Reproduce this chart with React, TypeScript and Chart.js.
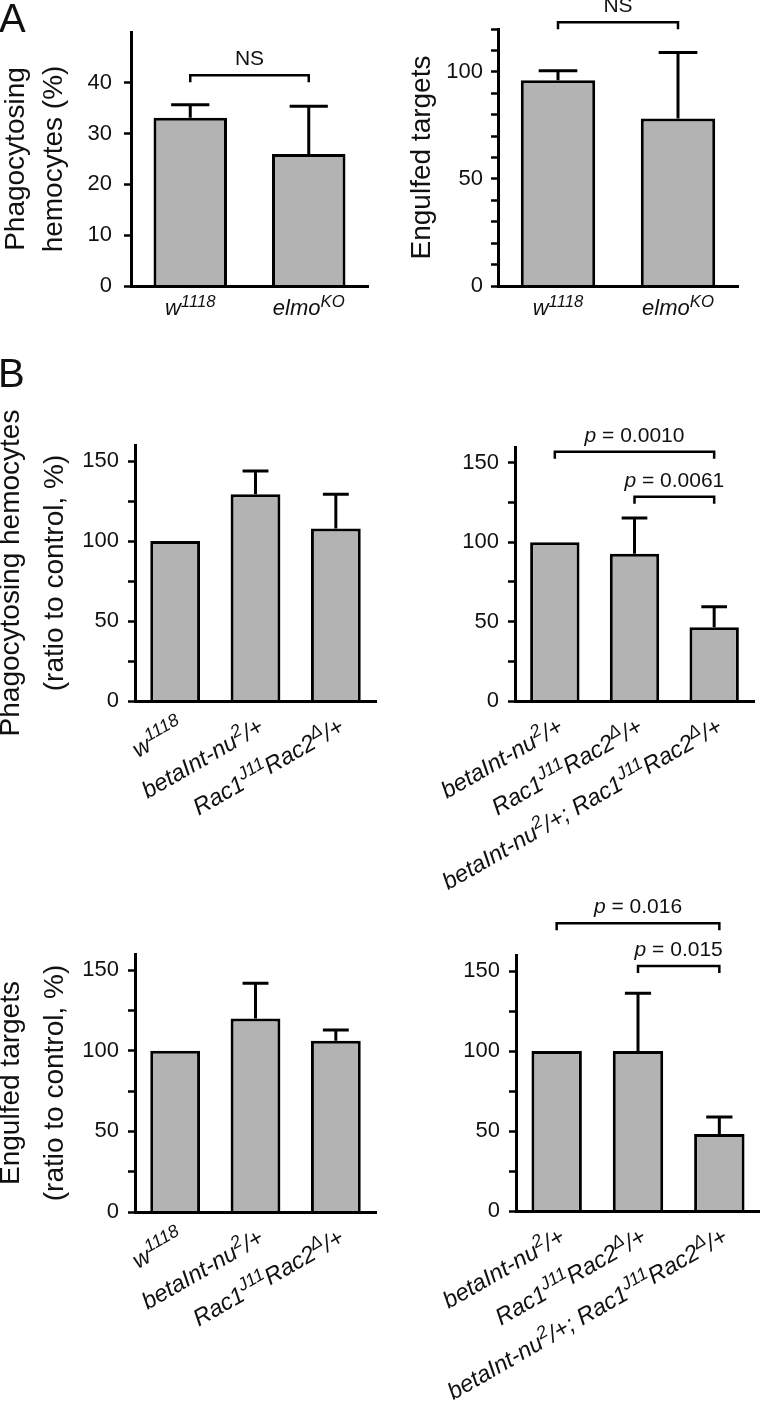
import React, { useEffect, useRef } from "react";
import { Chart, registerables } from "chart.js";

Chart.register(...registerables);

const FONT = "'Liberation Sans', Arial, Helvetica, sans-serif";
Chart.defaults.font.family = FONT;

// ---------------- DATA ----------------
// Panel A
const catsA = ["w^{1118}", "elmo^{KO}"];
const phagoA = [33.1, 26.0];
const phagoAErr = [2.6, 9.4];
const engulfA = [96.1, 78.2];
const engulfAErr = [4.4, 30.8];
const bracketsPhagoA = [{ from: 0, to: 1, y: 41.5, label: "NS" }];
const bracketsEngulfA = [{ from: 0, to: 1, y: 123.1, label: "NS" }];

// Panel B
const catsB1 = ["w^{1118}", "betaInt-nu^{2}/+", "Rac1^{J11}Rac2^{Δ}/+"];
const catsB2 = ["betaInt-nu^{2}/+", "Rac1^{J11}Rac2^{Δ}/+", "betaInt-nu^{2}/+; Rac1^{J11}Rac2^{Δ}/+"];
const phagoB1 = [100, 129.2, 107.8];
const phagoB1Err = [0, 14.5, 21.4];
const phagoB2 = [100, 92.7, 46.4];
const phagoB2Err = [0, 22.5, 13.0];
const engulfB1 = [100, 120.0, 106.2];
const engulfB1Err = [0, 21.8, 6.6];
const engulfB2 = [100, 100, 48.1];
const engulfB2Err = [0, 36.1, 10.7];
const bracketsPhagoB2 = [
  { from: 0, to: 2, y: 157.0, label: "*p* = 0.0010" },
  { from: 1, to: 2, y: 128.7, label: "*p* = 0.0061" },
];
const bracketsEngulfB2 = [
  { from: 0, to: 2, y: 179.8, label: "*p* = 0.016" },
  { from: 1, to: 2, y: 153.1, label: "*p* = 0.015" },
];

// ---------------- STYLE ----------------
const BAR_FILL = "#b3b3b3";
const INK = "#111";

type Seg = { t: string; sup: boolean; it: boolean };

function parseRich(s: string, italic: boolean): Seg[] {
  const out: Seg[] = [];
  let it = italic;
  let buf = "";
  let i = 0;
  const flush = () => {
    if (buf) out.push({ t: buf, sup: false, it });
    buf = "";
  };
  while (i < s.length) {
    const c = s[i];
    if (c === "*") {
      flush();
      it = !it;
      i++;
      continue;
    }
    if (c === "^" && s[i + 1] === "{") {
      flush();
      const j = s.indexOf("}", i);
      out.push({ t: s.slice(i + 2, j), sup: true, it });
      i = j + 1;
      continue;
    }
    buf += c;
    i++;
  }
  flush();
  return out;
}

function drawRich(
  ctx: CanvasRenderingContext2D,
  segs: Seg[],
  size: number,
  align: "center" | "right"
) {
  const supSize = size * 0.76;
  const raise = size * 0.38;
  const fontFor = (s: Seg) => `${s.it ? "italic " : ""}${s.sup ? supSize : size}px ${FONT}`;
  let total = 0;
  const widths = segs.map((s) => {
    ctx.font = fontFor(s);
    const w = ctx.measureText(s.t).width;
    total += w;
    return w;
  });
  let x = align === "right" ? -total : -total / 2;
  ctx.textAlign = "left";
  ctx.textBaseline = "alphabetic";
  segs.forEach((s, k) => {
    ctx.font = fontFor(s);
    ctx.fillText(s.t, x, s.sup ? -raise : 0);
    x += widths[k];
  });
}

type Bracket = { from: number; to: number; y: number; label: string };

type Spec = {
  box: [number, number, number, number];
  area: [number, number, number, number];
  labels: string[];
  values: number[];
  errors: number[];
  brackets: Bracket[];
  max: number;
  step: number;
  lastTick: number;
  labelEvery: number;
  tickPad: number;
  title: string | string[];
  titleLH: number;
  titlePad: number;
  rotated: boolean;
  catFont: number;
};

function makePlugin(spec: Spec) {
  return {
    id: "annot",
    afterDatasetsDraw(chart: any) {
      const ctx: CanvasRenderingContext2D = chart.ctx;
      const ys = chart.scales.y;
      const meta = chart.getDatasetMeta(0);
      ctx.save();
      ctx.strokeStyle = "#000";
      ctx.lineWidth = 3;
      ctx.lineCap = "butt";
      meta.data.forEach((el: any, i: number) => {
        const err = spec.errors[i];
        if (!err) return;
        const y0 = ys.getPixelForValue(spec.values[i]);
        const y1 = ys.getPixelForValue(spec.values[i] + err);
        const cw = el.width * 0.52;
        ctx.beginPath();
        ctx.moveTo(el.x, y0);
        ctx.lineTo(el.x, y1);
        ctx.moveTo(el.x - cw / 2, y1);
        ctx.lineTo(el.x + cw / 2, y1);
        ctx.stroke();
      });
      ctx.restore();
    },
    afterDraw(chart: any) {
      const ctx: CanvasRenderingContext2D = chart.ctx;
      const xs = chart.scales.x;
      const ys = chart.scales.y;
      const bottom = chart.chartArea.bottom;
      ctx.save();
      ctx.fillStyle = INK;
      // category labels
      spec.labels.forEach((lab, i) => {
        const x = xs.getPixelForValue(i);
        const segs = parseRich(lab, true);
        ctx.save();
        if (spec.rotated) {
          ctx.translate(x + 1, bottom + 15);
          ctx.rotate(-Math.PI / 6);
          ctx.translate(0, spec.catFont * 0.74);
          drawRich(ctx, segs, spec.catFont, "right");
        } else {
          ctx.translate(x, bottom + 29);
          drawRich(ctx, segs, spec.catFont, "center");
        }
        ctx.restore();
      });
      // brackets
      ctx.strokeStyle = "#000";
      ctx.lineWidth = 2.5;
      ctx.lineJoin = "miter";
      spec.brackets.forEach((b) => {
        const x1 = xs.getPixelForValue(b.from);
        const x2 = xs.getPixelForValue(b.to);
        const y = ys.getPixelForValue(b.y);
        ctx.beginPath();
        ctx.moveTo(x1, y + 7);
        ctx.lineTo(x1, y);
        ctx.lineTo(x2, y);
        ctx.lineTo(x2, y + 7);
        ctx.stroke();
        ctx.save();
        ctx.translate((x1 + x2) / 2, y - 10);
        drawRich(ctx, parseRich(b.label, false), 21, "center");
        ctx.restore();
      });
      ctx.restore();
    },
  };
}

function buildConfig(spec: Spec): any {
  const [bx, by, bw, bh] = spec.box;
  const [L, T, R, B] = spec.area;
  const yWidth = L - bx;
  const padTop = T - by;
  const padRight = bx + bw - R;
  const xHeight = by + bh - B;
  const hasTitle = Array.isArray(spec.title) ? spec.title.length > 0 : !!spec.title;
  return {
    type: "bar",
    data: {
      labels: spec.labels,
      datasets: [
        {
          data: spec.values,
          backgroundColor: BAR_FILL,
          borderColor: "#000",
          borderWidth: 3,
          barPercentage: 0.62,
          categoryPercentage: 1,
        },
      ],
    },
    options: {
      responsive: false,
      animation: false,
      events: [],
      layout: { padding: { top: padTop, right: padRight, bottom: 0, left: 0 } },
      plugins: { legend: { display: false }, tooltip: { enabled: false } },
      scales: {
        x: {
          grid: { display: false },
          border: { display: true, width: 3, color: "#000", z: 1 },
          ticks: { display: false },
          afterFit: (s: any) => {
            s.height = xHeight;
          },
        },
        y: {
          min: 0,
          max: spec.max,
          afterBuildTicks: (s: any) => {
            const t: any[] = [];
            for (let v = 0; v <= spec.lastTick + 1e-9; v += spec.step) t.push({ value: v });
            s.ticks = t;
          },
          afterFit: (s: any) => {
            s.width = yWidth;
          },
          ticks: {
            stepSize: spec.step,
            autoSkip: false,
            padding: spec.tickPad,
            color: INK,
            font: { family: FONT, size: 22 },
            callback: (v: any) => (Number(v) % spec.labelEvery === 0 ? String(v) : ""),
          },
          grid: {
            display: true,
            drawOnChartArea: false,
            drawTicks: true,
            tickLength: 7,
            tickWidth: 2.5,
            tickColor: "#000",
          },
          border: { display: true, width: 3, color: "#000", z: 1 },
          title: {
            display: hasTitle,
            text: spec.title,
            color: INK,
            font: { family: FONT, size: 28, lineHeight: spec.titleLH },
            padding: { top: spec.titlePad, bottom: 0 },
          },
        },
      },
    },
    plugins: [makePlugin(spec)],
  };
}

// ---------------- LAYOUT ----------------
const specs: Spec[] = [
  {
    box: [0, 0, 380, 330],
    area: [131, 32, 368, 286],
    labels: catsA,
    values: phagoA,
    errors: phagoAErr,
    brackets: bracketsPhagoA,
    max: 50,
    step: 10,
    lastTick: 40,
    labelEvery: 10,
    tickPad: 12,
    title: ["Phagocytosing", "hemocytes (%)"],
    titleLH: 1.36,
    titlePad: -3,
    rotated: false,
    catFont: 22,
  },
  {
    box: [380, 0, 380, 330],
    area: [498, 29, 738, 286],
    labels: catsA,
    values: engulfA,
    errors: engulfAErr,
    brackets: bracketsEngulfA,
    max: 120,
    step: 10,
    lastTick: 120,
    labelEvery: 50,
    tickPad: 8,
    title: "Engulfed targets",
    titleLH: 1.4,
    titlePad: 23,
    rotated: false,
    catFont: 22,
  },
  {
    box: [0, 330, 380, 560],
    area: [135, 445, 376, 701],
    labels: catsB1,
    values: phagoB1,
    errors: phagoB1Err,
    brackets: [],
    max: 160,
    step: 25,
    lastTick: 150,
    labelEvery: 50,
    tickPad: 9,
    title: ["Phagocytosing hemocytes", "(ratio to control, %)"],
    titleLH: 1.55,
    titlePad: -10,
    rotated: true,
    catFont: 23.5,
  },
  {
    box: [380, 330, 380, 560],
    area: [515, 447, 754, 701],
    labels: catsB2,
    values: phagoB2,
    errors: phagoB2Err,
    brackets: bracketsPhagoB2,
    max: 160,
    step: 25,
    lastTick: 150,
    labelEvery: 50,
    tickPad: 9,
    title: "",
    titleLH: 1.4,
    titlePad: 0,
    rotated: true,
    catFont: 23.5,
  },
  {
    box: [0, 860, 380, 541],
    area: [135, 954, 376, 1212],
    labels: catsB1,
    values: engulfB1,
    errors: engulfB1Err,
    brackets: [],
    max: 160,
    step: 25,
    lastTick: 150,
    labelEvery: 50,
    tickPad: 9,
    title: ["Engulfed targets", "(ratio to control, %)"],
    titleLH: 1.55,
    titlePad: -10,
    rotated: true,
    catFont: 23.5,
  },
  {
    box: [380, 860, 380, 541],
    area: [516, 955, 760, 1211],
    labels: catsB2,
    values: engulfB2,
    errors: engulfB2Err,
    brackets: bracketsEngulfB2,
    max: 160,
    step: 25,
    lastTick: 150,
    labelEvery: 50,
    tickPad: 9,
    title: "",
    titleLH: 1.4,
    titlePad: 0,
    rotated: true,
    catFont: 23.5,
  },
];

function Panel({ spec }: { spec: Spec }) {
  const ref = useRef<HTMLCanvasElement>(null);
  useEffect(() => {
    const chart = new Chart(ref.current as HTMLCanvasElement, buildConfig(spec));
    return () => chart.destroy();
  }, [spec]);
  const [x, y, w, h] = spec.box;
  return (
    <canvas
      ref={ref}
      width={w}
      height={h}
      style={{ position: "absolute", left: x, top: y, width: w, height: h }}
    />
  );
}

export default function App() {
  const letter: React.CSSProperties = {
    position: "absolute",
    fontFamily: FONT,
    fontSize: 40,
    lineHeight: "40px",
    color: INK,
  };
  return (
    <div
      style={{
        position: "absolute",
        left: 0,
        top: 0,
        width: 760,
        height: 1401,
        background: "#fff",
        overflow: "hidden",
      }}
    >
      {specs.map((s, i) => (
        <Panel key={i} spec={s} />
      ))}
      <div style={{ ...letter, left: -1, top: -2 }}>A</div>
      <div style={{ ...letter, left: -2, top: 353 }}>B</div>
    </div>
  );
}
